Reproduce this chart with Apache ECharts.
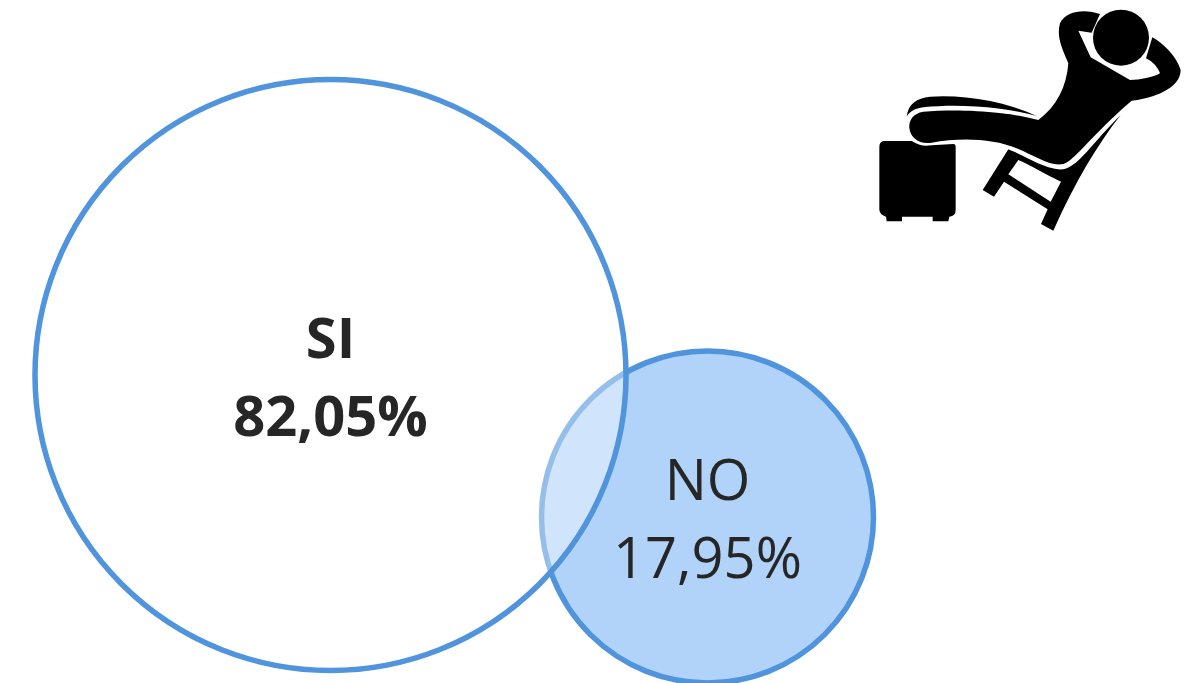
<!DOCTYPE html>
<html>
<head>
<meta charset="utf-8">
<style>html,body{margin:0;padding:0;background:#fff}#c{width:1200px;height:683px}</style>
<script src="https://cdn.jsdelivr.net/npm/echarts@6/dist/echarts.min.js"></script>
</head>
<body>
<div id="c"></div>
<script>
var categories = ['NO', 'SI'];
var shares = [17.95, 82.05];
var centerX = [707.5, 330.5];
var centerY = [517, 375];
var diameters = [332, 591];

var iconBody = 'M720,42C680,28 620,28 600,70C588,110 608,150 625,190C620,260 590,320 535,360C450,335 300,325 190,335C160,340 146,360 148,385C153,417 180,434 215,428C300,412 400,415 470,445C530,470 570,500 610,492C640,485 700,400 815,302C880,295 962,265 962,210C950,170 910,130 877,112L858,175C880,185 895,205 900,220C880,232 840,240 810,240L692,172L655,92L695,98Z';
var iconHead = 'M699,113A84,84 0 1 1 867,113A84,84 0 1 1 699,113Z';
var iconLeg = 'M140,350C145,310 170,295 210,290C300,283 430,300 530,348C440,322 300,310 190,322C165,325 148,335 140,350Z';
var iconStool = 'M75,423L155,423C175,435 190,440 215,436L280,432Q287,432 287,440L287,630Q287,648 268,650L265,664L218,664L218,650L126,650L126,664L80,664L78,650Q60,645 58,630L58,440Q58,423 75,423Z';
var iconChair = 'M782,345C715,430 645,545 580,692L543,672L563,628L432,545L402,590L368,570L445,448C500,470 560,512 610,508C655,500 700,425 782,345ZM475,480L445,523L572,605L603,545C560,525 510,495 475,480Z';
var iconParts = [iconBody, iconHead, iconLeg, iconStool, iconChair];

var styles = [
  { fill: '#b1d3f9', bold: 'normal' },
  { fill: 'rgba(255,255,255,0.4)', bold: 'bold' }
];

var chart = echarts.init(document.getElementById('c'), null, { renderer: 'canvas' });
var circleSeries = categories.map(function (name, i) {
  return {
    type: 'scatter',
    name: name,
    clip: false,
    silent: true,
    z: 2 + i,
    symbol: 'circle',
    symbolSize: diameters[i],
    data: [{ name: name, value: [centerX[i], centerY[i], shares[i]] }],
    itemStyle: { color: styles[i].fill, borderColor: '#4f94dc', borderWidth: 5.5, opacity: 1 },
    label: {
      show: true,
      position: 'inside',
      offset: [0, 6],
      formatter: function (p) {
        return p.name + '\n' + p.value[2].toFixed(2).replace('.', ',') + '%';
      },
      fontFamily: 'Open Sans',
      fontSize: 56,
      lineHeight: 78,
      fontWeight: styles[i].bold,
      color: '#262626',
      align: 'center',
      verticalAlign: 'middle'
    }
  };
});
var iconSeries = {
  type: 'custom',
  silent: true,
  clip: false,
  z: 5,
  coordinateSystem: 'none',
  data: [[0]],
  renderItem: function () {
    return {
      type: 'group',
      x: 860,
      y: 0,
      scaleX: 1 / 3,
      scaleY: 1 / 3,
      children: iconParts.map(function (d) {
        return { type: 'path', shape: { pathData: d }, style: { fill: '#000' } };
      })
    };
  }
};

chart.setOption({
  animation: false,
  backgroundColor: '#ffffff',
  grid: { left: 0, right: 0, top: 0, bottom: 0 },
  xAxis: { type: 'value', min: 0, max: 1200, show: false },
  yAxis: { type: 'value', min: 0, max: 683, inverse: true, show: false },
  series: circleSeries.concat([iconSeries])
});
</script>
</body>
</html>
